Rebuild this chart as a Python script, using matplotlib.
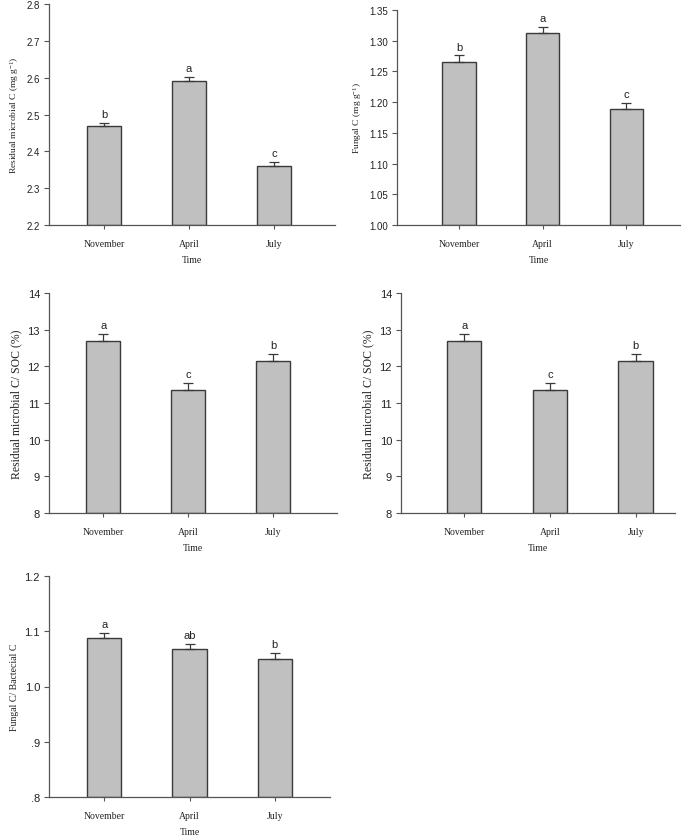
import numpy as np
import matplotlib
matplotlib.use('Agg')
import matplotlib.pyplot as plt

plt.rcParams['mathtext.fontset'] = 'custom'
plt.rcParams['mathtext.rm'] = 'Liberation Serif'
plt.rcParams['mathtext.it'] = 'Liberation Serif'
plt.rcParams['mathtext.default'] = 'rm'

# data
months = ['November', 'April', 'July']

residual_c = [2.468, 2.591, 2.361]
residual_c_err = [0.010, 0.010, 0.010]
residual_c_let = ['b', 'a', 'c']

fungal_c = [1.266, 1.313, 1.189]
fungal_c_err = [0.010, 0.010, 0.010]
fungal_c_let = ['b', 'a', 'c']

resid_soc = [12.68, 11.35, 12.15]
resid_soc_err = [0.19, 0.20, 0.20]
resid_soc_let = ['a', 'c', 'b']

fb_ratio = [1.087, 1.067, 1.050]
fb_ratio_err = [0.010, 0.010, 0.010]
fb_ratio_let = ['a', 'ab', 'b']

sans = 'Liberation Sans'
serif = 'Liberation Serif'
edge = '#3a3a3a'

fig = plt.figure(figsize=(6.85, 8.37), dpi=100)

def W(px):
    return px / 685
def H(px):
    return px / 837

def panel(rect_px, vals, errs, lets, ylim, yticks, yticklabels, ylabel, xlim,
          ylsize=7, ticksize=8):
    l, t, r, b = rect_px
    ax = fig.add_axes([W(l), 1 - H(b), W(r - l), H(b - t)])
    x = np.arange(len(months))
    ax.bar(x, [v - ylim[0] for v in vals], bottom=ylim[0], width=0.4,
           color='#c0c0c0', edgecolor=edge, linewidth=1.0, zorder=2)
    ax.errorbar(x, vals, yerr=[[0] * 3, errs], fmt='none', ecolor=edge,
                elinewidth=0.9, capsize=3.5, capthick=0.9, zorder=3)
    span = ylim[1] - ylim[0]
    for xi, v, e, s in zip(x, vals, errs, lets):
        ax.text(xi, v + e + span * 0.018, s, ha='center', va='bottom',
                fontsize=8, family=sans, color='#222222')
    ax.set_ylim(*ylim)
    ax.set_xlim(*xlim)
    ax.set_yticks(yticks)
    ax.set_yticklabels(yticklabels, family=sans, fontsize=ticksize, color='#222222')
    ax.set_xticks(x)
    ax.set_xticklabels(months, family=serif, fontsize=7, color='#222222')
    ax.set_xlabel('Time', family=serif, fontsize=7, color='#222222', labelpad=5)
    ax.set_ylabel(ylabel, family=serif, fontsize=ylsize, color='#222222', labelpad=4)
    for sp in ['top', 'right']:
        ax.spines[sp].set_visible(False)
    for sp in ['left', 'bottom']:
        ax.spines[sp].set_color('#555555')
        ax.spines[sp].set_linewidth(0.9)
    ax.tick_params(axis='y', direction='out', length=3.5, width=0.8, color='#555555', pad=3)
    ax.tick_params(axis='x', direction='out', length=3, width=0.8, color='#555555', pad=7)
    return ax

panel((49, 5, 335, 226), residual_c, residual_c_err, residual_c_let,
      (2.2, 2.8), [2.2, 2.3, 2.4, 2.5, 2.6, 2.7, 2.8],
      ['2.2', '2.3', '2.4', '2.5', '2.6', '2.7', '2.8'],
      r'Residual microbial C (mg g$^{-1}$)', (-0.65, 2.72), ylsize=6.8, ticksize=7)

panel((397, 11, 680, 226), fungal_c, fungal_c_err, fungal_c_let,
      (1.0, 1.35), [1.00, 1.05, 1.10, 1.15, 1.20, 1.25, 1.30, 1.35],
      ['1.00', '1.05', '1.10', '1.15', '1.20', '1.25', '1.30', '1.35'],
      r'Fungal C (mg g$^{-1}$)', (-0.74, 2.64), ylsize=6.8, ticksize=7)

panel((49, 294, 337, 514), resid_soc, resid_soc_err, resid_soc_let,
      (8, 14), [8, 9, 10, 11, 12, 13, 14],
      ['8', '9', '10', '11', '12', '13', '14'],
      'Residual microbial C/ SOC (%)', (-0.64, 2.75), ylsize=8.5)

panel((401, 294, 675, 514), resid_soc, resid_soc_err, resid_soc_let,
      (8, 14), [8, 9, 10, 11, 12, 13, 14],
      ['8', '9', '10', '11', '12', '13', '14'],
      'Residual microbial C/ SOC (%)', (-0.74, 2.46), ylsize=8.5)

panel((49, 577, 330, 798), fb_ratio, fb_ratio_err, fb_ratio_let,
      (0.8, 1.2), [0.8, 0.9, 1.0, 1.1, 1.2],
      ['.8', '.9', '1.0', '1.1', '1.2'],
      'Fungal C/ Bactecial C', (-0.65, 2.65), ylsize=7)

fig.savefig('out.png', dpi=100)
